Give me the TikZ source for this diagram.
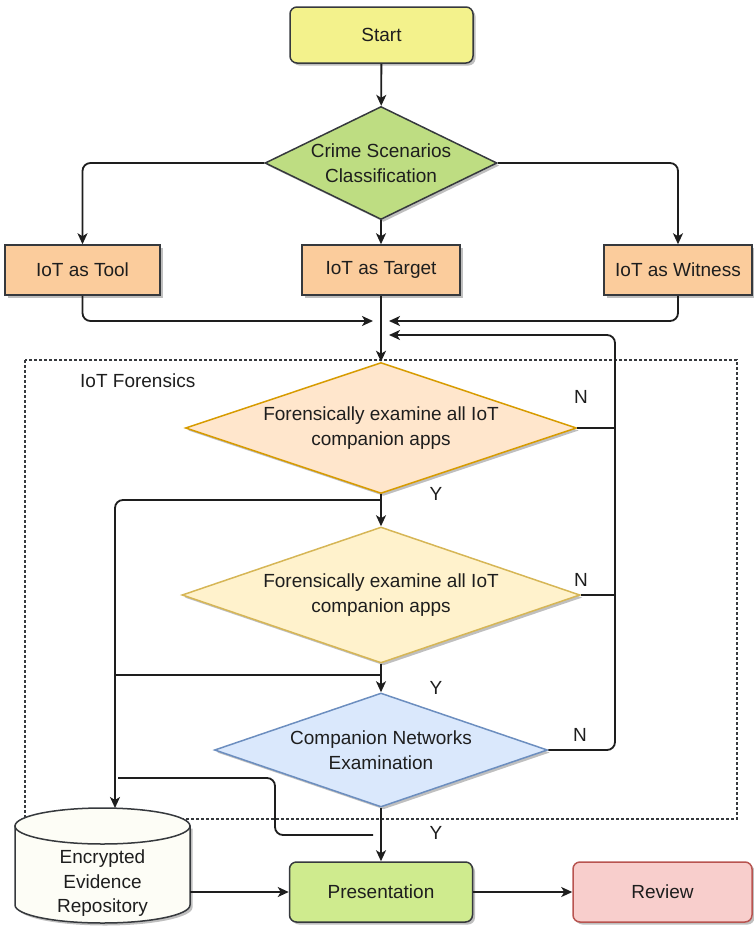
\documentclass[tikz,border=0pt]{standalone}
\usepackage{fontspec}
\setmainfont{Liberation Sans}
\usetikzlibrary{shapes.geometric,arrows.meta,shadows}

\definecolor{ink}{HTML}{1E1E1E}
\definecolor{edge}{HTML}{36393D}
\definecolor{startfill}{HTML}{F3F28C}
\definecolor{greenfill}{HTML}{BEDD82}
\definecolor{presfill}{HTML}{CFEB8E}
\definecolor{iotfill}{HTML}{FBCC9C}
\definecolor{orfill}{HTML}{FFE6CC}
\definecolor{ordraw}{HTML}{D79B00}
\definecolor{yefill}{HTML}{FFF2CC}
\definecolor{yedraw}{HTML}{D6B656}
\definecolor{blfill}{HTML}{DAE8FC}
\definecolor{bldraw}{HTML}{6C8EBF}
\definecolor{rvfill}{HTML}{F8CECC}
\definecolor{rvdraw}{HTML}{B85450}
\definecolor{dbfill}{HTML}{FDFDF6}

\newcommand{\diagfont}{\fontsize{19}{24.5}\selectfont}

\begin{document}
\begin{tikzpicture}[x=1pt,y=-1pt,
  shade/.style={drop shadow={shadow xshift=2.5pt,shadow yshift=-2.5pt,opacity=0.25,fill=black}},
  box/.style={shape=rectangle,draw=edge,line width=1.5pt,text=ink,font=\diagfont,
    inner sep=0pt,align=center,shade},
  roundbox/.style={box,rounded corners=7pt},
  decision/.style={shape=diamond,line width=1.5pt,inner sep=0pt,shade},
  txt/.style={text=ink,font=\diagfont,align=center,inner sep=0pt},
  conn/.style={draw=ink,line width=1.8pt,rounded corners=8pt},
  arr/.style={conn,-{Stealth[length=11pt,width=10pt,inset=3pt]}},
  frame/.style={draw=edge,line width=1.2pt,dash pattern=on 3pt off 2pt}]

\useasboundingbox (0,0) rectangle (753,935);

% dashed group around the examination steps
\draw[frame] (25,360) rectangle (737,819);
\node[txt,anchor=west] (grp) at (80,381) {IoT Forensics};

% nodes
\node[roundbox,fill=startfill,minimum width=183,minimum height=56] (start) at (381.5,35) {Start};
\node[decision,draw=edge,fill=greenfill,minimum width=232,minimum height=113] (crime) at (381,163) {};
\node[txt] (crimet) at (crime) {Crime Scenarios\\Classification};

\node[box,fill=iotfill,minimum width=155,minimum height=50] (tool) at (82.5,270) {IoT as Tool};
\node[box,fill=iotfill,minimum width=158,minimum height=50] (target) at (381,270) {IoT as Target};
\node[box,fill=iotfill,minimum width=148,minimum height=50] (witness) at (678,270) {IoT as Witness};

\node[decision,draw=ordraw,fill=orfill,minimum width=391,minimum height=131] (d1) at (381,428) {};
\node[txt] (d1t) at (d1) {Forensically examine all IoT\\companion apps};
\node[decision,draw=yedraw,fill=yefill,minimum width=398,minimum height=136] (d2) at (381,595) {};
\node[txt] (d2t) at (d2) {Forensically examine all IoT\\companion apps};
\node[decision,draw=bldraw,fill=blfill,minimum width=333,minimum height=114] (d3) at (381,750) {};
\node[txt] (d3t) at (d3) {Companion Networks\\Examination};

\node[roundbox,fill=presfill,minimum width=183,minimum height=60] (pres) at (381,892) {Presentation};
\node[roundbox,draw=rvdraw,fill=rvfill,minimum width=179,minimum height=60] (review) at (662.5,892) {Review};

% evidence repository drawn as a cylinder
\filldraw[draw=edge,fill=dbfill,line width=1.5pt,shade]
  (15,826) -- (15,905) arc[start angle=180,end angle=360,x radius=87.5pt,y radius=18pt]
  -- (190,826) -- cycle;
\filldraw[draw=edge,fill=dbfill,line width=1.5pt] (102.5,826) ellipse[x radius=87.5pt,y radius=18pt];
\node[txt,minimum width=175,minimum height=79] (repo) at (102.5,883.5) {Encrypted\\Evidence\\Repository};

% junction points
\coordinate (jl) at (373,321);
\coordinate (jr) at (389,321);
\coordinate (jb) at (389,335);
\coordinate (fb) at (615,335);
\coordinate (a1) at (381,500);
\coordinate (a2) at (381,675);
\coordinate (repoin) at (115,808);
\coordinate (s1) at (118,778);
\coordinate (s2) at (275,835);
\coordinate (s3) at (373,835);

% connectors
\draw[arr] (start) -- (crime);
\draw[arr] (crime.west) -| (tool.north);
\draw[arr] (crime.south) -- (target.north);
\draw[arr] (crime.east) -| (witness.north);
\draw[arr] (tool.south) |- (jl);
\draw[arr] (witness.south) |- (jr);
\draw[arr] (target.south) -- (d1.north);

\draw[arr] (d3.east) -| (fb) -- (jb);
\draw[conn] (d1.east) -- (d1.east -| fb);
\draw[conn] (d2.east) -- (d2.east -| fb);

\draw[arr] (d1.south) -- (d2.north);
\draw[arr] (a1) -| (repoin);
\draw[conn,rounded corners=0pt] (d2.south) -- (a2) -- (a2 -| repoin);
\draw[arr] (d2.south) -- (d3.north);
\draw[arr] (d3.south) -- (pres.north);
\draw[conn] (s1) -| (s2) -- (s3);

\draw[arr] (repo.east |- pres.west) -- (pres.west);
\draw[arr] (pres.east) -- (review.west);

% branch labels
\node[txt] (n1) at (581,397) {N};
\node[txt] (n2) at (581,580) {N};
\node[txt] (n3) at (580,735) {N};
\node[txt] (y1) at (436,494) {Y};
\node[txt] (y2) at (436,688) {Y};
\node[txt] (y3) at (436,833) {Y};
\end{tikzpicture}
\end{document}
